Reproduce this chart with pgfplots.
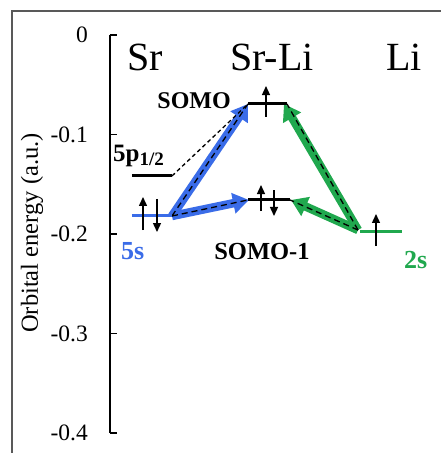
\documentclass[border=0pt]{standalone}
\usepackage{fontspec}
\setmainfont{Liberation Serif}
\usepackage{pgfplots}
\pgfplotsset{compat=1.18}
\usetikzlibrary{arrows.meta}
\definecolor{mblue}{RGB}{58,108,232}
\definecolor{mgreen}{RGB}{32,168,78}
\begin{document}
\begin{tikzpicture}
\path[use as bounding box, clip] (0,0) rectangle (441pt,453pt);
\fill[white] (0,0) rectangle (441pt,453pt);
\draw[black!65, line width=1.6pt] (12pt,-20pt) rectangle (470pt,442pt);
\begin{axis}[
  at={(110pt,20pt)}, anchor=south west,
  scale only axis, width=331pt, height=398pt,
  xmin=110, xmax=441, ymin=-0.4, ymax=0,
  axis x line=none, axis y line*=left,
  y axis line style={line width=1.2pt},
  ytick={-0.4,-0.3,-0.2,-0.1,0},
  yticklabels={-0.4,-0.3,-0.2,-0.1,0},
  tick align=inside, major tick length=7pt,
  every tick/.style={black, line width=1.2pt},
  yticklabel style={font=\fontsize{23.5}{25}\selectfont, inner sep=0pt, anchor=east, xshift=-22pt},
  ylabel={Orbital energy (a.u.)},
  every axis y label/.style={at={(axis description cs:-0.2356,0.5025)}, rotate=90, anchor=center, font=\fontsize{24.5}{26}\selectfont},
  clip=false,
]
% thick correlation arrows
\addplot[mblue, line width=8.5pt, -{Triangle[width=20pt,length=16pt]}] coordinates {(172,-0.1819) (248,-0.0693)};
\addplot[mblue, line width=8.5pt, -{Triangle[width=20pt,length=16pt]}] coordinates {(172,-0.1819) (249,-0.1658)};
\addplot[mgreen, line width=8.5pt, -{Triangle[width=20pt,length=16pt]}] coordinates {(358,-0.1960) (284,-0.0693)};
\addplot[mgreen, line width=8.5pt, -{Triangle[width=20pt,length=16pt]}] coordinates {(358,-0.1960) (291,-0.1658)};
% dashed lines
\addplot[black, line width=1.3pt, dash pattern=on 6pt off 4pt] coordinates {(172,-0.1819) (248,-0.0693)};
\addplot[black, line width=1.3pt, dash pattern=on 6pt off 4pt] coordinates {(172,-0.1819) (248,-0.1658)};
\addplot[black, line width=1.3pt, dash pattern=on 6pt off 4pt] coordinates {(358,-0.1960) (287,-0.0693)};
\addplot[black, line width=1.3pt, dash pattern=on 6pt off 4pt] coordinates {(358,-0.1960) (290,-0.1658)};
\addplot[black, line width=1.3pt, dash pattern=on 4pt off 3pt] coordinates {(172,-0.1417) (248,-0.0693)};
% levels
\addplot[mblue, line width=3pt] coordinates {(132,-0.1819) (172,-0.1819)};
\addplot[black, line width=3pt] coordinates {(132,-0.1417) (172,-0.1417)};
\addplot[black, line width=3pt] coordinates {(248,-0.0693) (287,-0.0693)};
\addplot[black, line width=3pt] coordinates {(248,-0.1658) (290,-0.1658)};
\addplot[mgreen, line width=3pt] coordinates {(360,-0.1970) (402,-0.1970)};
% spins
\addplot[black, line width=1.4pt, -{Triangle[width=8pt,length=9pt]}] coordinates {(143,-0.1960) (143,-0.1628)};
\addplot[black, line width=1.4pt, -{Triangle[width=8pt,length=9pt]}] coordinates {(157,-0.1648) (157,-0.1980)};
\addplot[black, line width=1.4pt, -{Triangle[width=8pt,length=9pt]}] coordinates {(266,-0.0824) (266,-0.0513)};
\addplot[black, line width=1.4pt, -{Triangle[width=8pt,length=9pt]}] coordinates {(261,-0.1769) (261,-0.1508)};
\addplot[black, line width=1.4pt, -{Triangle[width=8pt,length=9pt]}] coordinates {(274,-0.1558) (274,-0.1819)};
\addplot[black, line width=1.4pt, -{Triangle[width=8pt,length=9pt]}] coordinates {(376,-0.2121) (376,-0.1799)};
% labels
\node[anchor=base, font=\fontsize{40}{42}\selectfont] at (axis cs:145,-0.0352) {Sr};
\node[anchor=base, font=\fontsize{40}{42}\selectfont] at (axis cs:272,-0.0352) {Sr-Li};
\node[anchor=base, font=\fontsize{40}{42}\selectfont] at (axis cs:404,-0.0352) {Li};
\node[anchor=base east, inner sep=0pt, font=\fontsize{24}{26}\selectfont\bfseries] at (axis cs:231,-0.0734) {SOMO};
\node[anchor=base west, inner sep=0pt, font=\fontsize{25}{27}\selectfont\bfseries] at (axis cs:113,-0.1276) {5p\raisebox{-4pt}{\fontsize{19}{19}\selectfont 1/2}};
\node[anchor=base west, inner sep=0pt, text=mblue, font=\fontsize{26}{28}\selectfont\bfseries] at (axis cs:121,-0.2261) {5s};
\node[anchor=base, inner sep=0pt, font=\fontsize{24.5}{26}\selectfont\bfseries] at (axis cs:262,-0.2261) {SOMO-1};
\node[anchor=base west, inner sep=0pt, text=mgreen, font=\fontsize{26}{28}\selectfont\bfseries] at (axis cs:404,-0.2342) {2s};
\end{axis}
\end{tikzpicture}
\end{document}
